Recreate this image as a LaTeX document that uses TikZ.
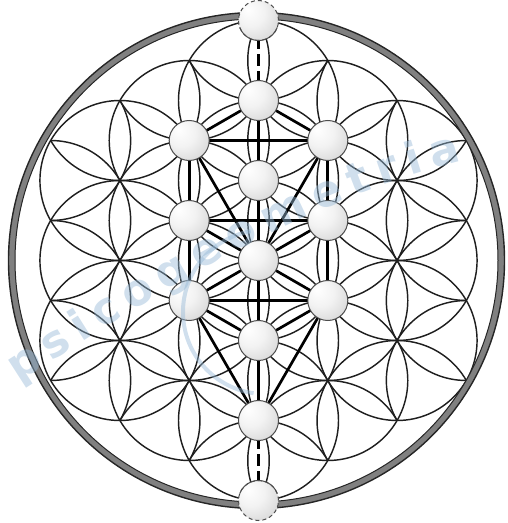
\documentclass[tikz,border=0pt]{standalone}
\usepackage{fontspec}
\setsansfont{DejaVu Sans}
\usetikzlibrary{decorations.text}
\definecolor{wm}{RGB}{150,185,215}
\pgfdeclareradialshading{sphere}{\pgfpoint{-14bp}{14bp}}{color(0bp)=(white); color(18bp)=(gray!10); color(40bp)=(gray!35); color(65bp)=(gray!55)}
\begin{document}
\begin{tikzpicture}[x=1pt,y=1pt,
  flower/.style={line width=1.45pt, draw=black!88},
  treepath/.style={line width=2.7pt, draw=black},
  dashlink/.style={line width=2.4pt, draw=black, dash pattern=on 12pt off 5pt},
  sph/.style={circle, minimum size=40pt, inner sep=0pt, shading=sphere, draw=black!70, line width=1pt},
  sphnd/.style={circle, minimum size=40pt, inner sep=0pt, shading=sphere},
]
\useasboundingbox (0,0) rectangle (507,523);
\coordinate (C) at (258.5,262.5);
\coordinate (R) at (256.5,262.5);

% ---- flower of life ----
\draw[flower] (C) circle[radius=80];
\foreach \a in {30,90,...,330} {
  \draw[flower] (C) ++(\a:80) circle[radius=80];
  \draw[flower] (C) ++(\a:160) circle[radius=80];
}
\foreach \a in {0,60,...,300} {
  \draw[flower] (C) ++(\a:138.564) circle[radius=80];
}
\foreach \n in {0,60,...,300} {
  \foreach \s in {-10.893,10.893} {
    \draw[flower] (C) ++({\n+\s}:211.66) ++({\n+90}:80) arc[start angle={\n+90}, end angle={\n+270}, radius=80];
  }
}
\foreach \m in {30,90,...,330} {
  \draw[flower] (C) ++(\m:240) ++({\m+120}:80) arc[start angle={\m+120}, end angle={\m+240}, radius=80];
}

% ---- outer ring ----
\fill[black!50, even odd rule] (R) circle[radius=248] (R) circle[radius=241.5];
\draw[black!85, line width=1.4pt] (R) circle[radius=248];
\draw[black!85, line width=1pt] (R) circle[radius=241.5];

% ---- tree of life positions ----
\coordinate (top) at (258.5,502.5);
\coordinate (keter) at (258.5,422.5);
\coordinate (chokmah) at (189.2,382.5);
\coordinate (binah) at (327.8,382.5);
\coordinate (daat) at (258.5,342.5);
\coordinate (chesed) at (189.2,302.5);
\coordinate (geburah) at (327.8,302.5);
\coordinate (tiferet) at (258.5,262.5);
\coordinate (netzach) at (189.2,222.5);
\coordinate (hod) at (327.8,222.5);
\coordinate (yesod) at (258.5,182.5);
\coordinate (malkuth) at (258.5,102.5);
\coordinate (bottom) at (258.5,22.5);

% ---- paths ----
\draw[treepath] (keter) -- (chokmah);
\draw[treepath] (keter) -- (binah);
\draw[treepath] (keter) -- (daat);
\draw[treepath] (daat) -- (tiferet);
\draw[treepath] (chokmah) -- (binah);
\draw[treepath] (chokmah) -- (chesed);
\draw[treepath] (binah) -- (geburah);
\draw[treepath] (chokmah) -- (tiferet);
\draw[treepath] (binah) -- (tiferet);
\draw[treepath] (chesed) -- (geburah);
\draw[treepath] (chesed) -- (tiferet);
\draw[treepath] (geburah) -- (tiferet);
\draw[treepath] (chesed) -- (netzach);
\draw[treepath] (geburah) -- (hod);
\draw[treepath] (tiferet) -- (netzach);
\draw[treepath] (tiferet) -- (hod);
\draw[treepath] (netzach) -- (hod);
\draw[treepath] (tiferet) -- (yesod);
\draw[treepath] (netzach) -- (yesod);
\draw[treepath] (hod) -- (yesod);
\draw[treepath] (netzach) -- (malkuth);
\draw[treepath] (hod) -- (malkuth);
\draw[treepath] (yesod) -- (malkuth);
\draw[dashlink] (top) -- (keter);
\draw[dashlink] (malkuth) -- (bottom);

% ---- spheres ----
\foreach \p in {keter,chokmah,binah,daat,chesed,geburah,tiferet,netzach,hod,yesod,malkuth} {
  \node[sph] (\p-s) at (\p) {};
}
\node[sphnd] (top-s) at (top) {};
\node[sphnd] (bottom-s) at (bottom) {};
\draw[black!70, line width=1pt, dash pattern=on 4pt off 3pt] (top) circle[radius=20];
\draw[black!70, line width=1pt] (top) ++(200:20) arc[start angle=200, end angle=340, radius=20];
\draw[black!70, line width=1pt, dash pattern=on 4pt off 3pt] (bottom) circle[radius=20];
\draw[black!70, line width=1pt] (bottom) ++(20:20) arc[start angle=20, end angle=160, radius=20];

% ---- watermark ----
\begin{scope}[opacity=0.45]
\draw[wm, line width=4pt] (265,211) ++(100:82) arc[start angle=100, end angle=262, radius=82];
\path[decorate, decoration={text along path, text align={fit to path}, text color=wm,
  text={|\fontsize{44}{44}\selectfont\sffamily\bfseries|psicogeometria}}]
  (18,140) .. controls (150,225) and (300,322) .. (462,362);
\end{scope}
\end{tikzpicture}
\end{document}
